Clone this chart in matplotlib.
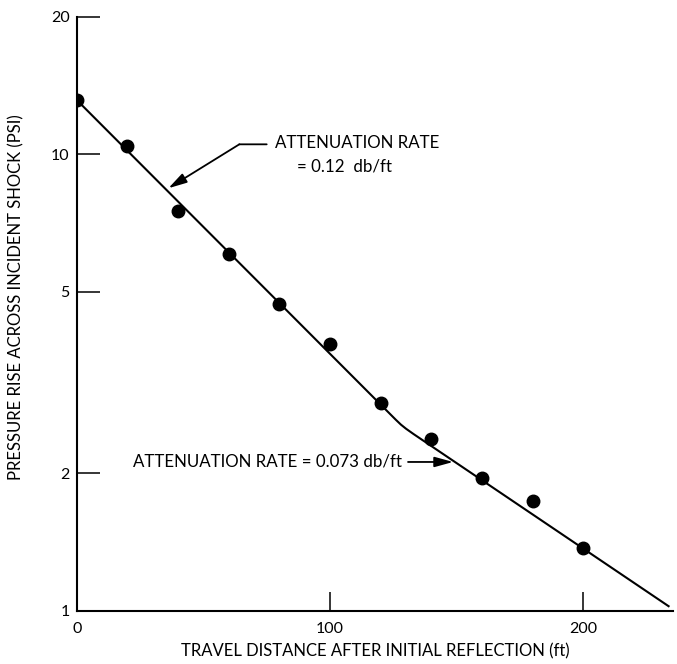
"""
Pressure rise across incident shock vs travel distance after initial reflection.
Semi-log plot, two attenuation rates marked.
"""

###
# IMPORTS
###
import matplotlib
matplotlib.use("Agg")
import matplotlib.pyplot as plt
from matplotlib.ticker import FixedLocator, FixedFormatter, NullLocator

###
# DATA
###
# measured points (ft, psi)
distance_ft = [0, 20, 40, 60, 80, 100, 120, 140, 160, 180, 200]
pressure_psi = [13.16, 10.43, 7.52, 6.05, 4.70, 3.84, 2.85, 2.38, 1.95, 1.74, 1.37]

# faired curve through the points
fit_ft = [0, 126, 128, 130, 133, 234]
fit_psi = [13.16, 2.62, 2.557, 2.505, 2.438, 1.02]

x_ticks = [0, 100, 200]
y_ticks = [1, 2, 5, 10, 20]
y_tick_labels = ["1", "2", "5", "10", "20"]

###
# PLOT
###
plt.rcParams["font.family"] = ["Lato", "DejaVu Sans"]

fig = plt.figure(figsize=(6.77, 6.64), dpi=100)
ax = fig.add_axes([76.7 / 677, 53.3 / 664, 596.3 / 677, 593.7 / 664])

ax.plot(fit_ft, fit_psi, color="black", lw=1.5, solid_capstyle="butt")
ax.plot(distance_ft, pressure_psi, "o", color="black", ms=9)

ax.set_yscale("log")
ax.set_xlim(0, 235.4)
ax.set_ylim(1, 20)

ax.yaxis.set_major_locator(FixedLocator(y_ticks))
ax.yaxis.set_major_formatter(FixedFormatter(y_tick_labels))
ax.yaxis.set_minor_locator(NullLocator())
ax.xaxis.set_major_locator(FixedLocator(x_ticks))

for s in ["top", "right"]:
  ax.spines[s].set_visible(False)
for s in ["left", "bottom"]:
  ax.spines[s].set_linewidth(1.5)

ax.tick_params(axis="y", direction="in", length=16.5, width=1.1, pad=5, labelsize=11.5)
ax.tick_params(axis="x", direction="in", length=13.5, width=1.1, pad=8, labelsize=11.5)

ax.set_xlabel("TRAVEL DISTANCE AFTER INITIAL REFLECTION (ft)", fontsize=12)
ax.xaxis.set_label_coords(0.5, -0.055)
ax.set_ylabel("PRESSURE RISE ACROSS INCIDENT SHOCK (PSI)", fontsize=12)
ax.yaxis.set_label_coords(-0.087, 0.5275)

# upper annotation, 0.12 db/ft
ax.text(78.3, 10.59, "ATTENUATION RATE", fontsize=12.2, ha="left", va="center")
ax.text(87.0, 9.40, "= 0.12  db/ft", fontsize=12.2, ha="left", va="center")
ax.annotate("", xy=(64.2, 10.52), xytext=(75.0, 10.52),
            arrowprops=dict(arrowstyle="-", lw=1.3, color="black",
                            shrinkA=0, shrinkB=0))
ax.annotate("", xy=(36.2, 8.43), xytext=(64.2, 10.52),
            arrowprops=dict(arrowstyle="-|>,head_length=0.8,head_width=0.22",
                            lw=1.3, color="black", shrinkA=0, shrinkB=0,
                            mutation_scale=14))

# lower annotation, 0.073 db/ft
ax.text(22.2, 2.118, "ATTENUATION RATE = 0.073 db/ft", fontsize=12.2,
        ha="left", va="center")
ax.annotate("", xy=(148.6, 2.118), xytext=(130.8, 2.118),
            arrowprops=dict(arrowstyle="-|>,head_length=0.8,head_width=0.22",
                            lw=1.3, color="black", shrinkA=0, shrinkB=0,
                            mutation_scale=14))

fig.savefig("out.png", dpi=100)
